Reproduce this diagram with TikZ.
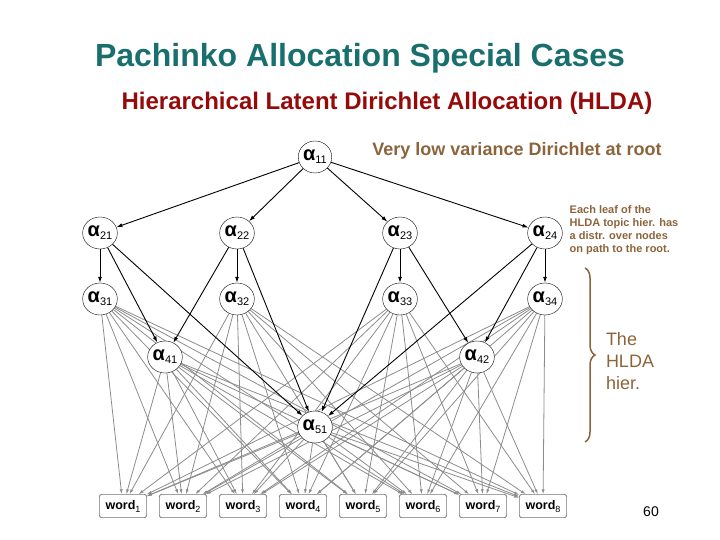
\documentclass[tikz,border=0pt]{standalone}
\usepackage{fontspec}
\setmainfont{Liberation Sans}
\usetikzlibrary{decorations.pathreplacing,arrows.meta,shapes.geometric,backgrounds}
\definecolor{teal1}{RGB}{25,110,110}
\definecolor{red1}{RGB}{150,10,10}
\definecolor{brown1}{RGB}{140,100,60}
\begin{document}
\begin{tikzpicture}[x=1pt,y=-1pt,
  alpha/.style={draw,fill=white,ellipse,minimum width=28pt,minimum height=32pt,inner sep=0pt,font=\fontsize{20}{20}\selectfont\bfseries},
  word/.style={draw,fill=white,rounded corners=2pt,minimum width=47pt,minimum height=23pt,inner sep=1pt,text height=9pt,text depth=3pt,font=\fontsize{12.5}{12.5}\selectfont\bfseries},
  blk/.style={-{Latex[length=6pt,width=4pt]},line width=0.9pt},
  gry/.style={-{Latex[length=5pt,width=3pt]},black!45,line width=0.8pt}]
\useasboundingbox (0,0) rectangle (720,540);
\node[teal1,font=\fontsize{32}{32}\selectfont\bfseries] (t) at (360,58) {Pachinko Allocation Special Cases};
\node[red1,font=\fontsize{24}{24}\selectfont\bfseries] (st) at (387,103) {Hierarchical Latent Dirichlet Allocation (HLDA)};
\node[brown1,font=\fontsize{18}{18}\selectfont\bfseries] (vl) at (517,151) {Very low variance Dirichlet at root};
\node[brown1,font=\fontsize{11}{13.2}\selectfont\bfseries,align=left] (el) at (624,230) {Each leaf of the\\HLDA topic hier. has\\a distr. over nodes\\on path to the root.};
\node[brown1,font=\fontsize{18}{22}\selectfont,align=left] (hh) at (630,361) {The\\HLDA\\hier.};
\node[font=\fontsize{14}{14}\selectfont] (pn) at (651,512) {60};
\draw[brown1,line width=1.5pt,decoration={brace,amplitude=10pt},decorate] (585,268) -- (585,442);

\newcommand{\al}[1]{α\raisebox{-3pt}{\fontsize{11}{11}\selectfont\mdseries #1}}
\node[alpha] (a11) at (315,157) {\al{11}};
\node[alpha] (a21) at (100,233) {\al{21}};
\node[alpha] (a22) at (237,233) {\al{22}};
\node[alpha] (a23) at (400,233) {\al{23}};
\node[alpha] (a24) at (545,233) {\al{24}};
\node[alpha] (a31) at (100,299) {\al{31}};
\node[alpha] (a32) at (237,299) {\al{32}};
\node[alpha] (a33) at (400,299) {\al{33}};
\node[alpha] (a34) at (545,299) {\al{34}};
\node[alpha] (a41) at (165,357) {\al{41}};
\node[alpha] (a42) at (477,357) {\al{42}};
\node[alpha] (a51) at (315,427) {\al{51}};
\foreach \i/\x in {1/123,2/183,3/243,4/303,5/363,6/423,7/483,8/543}
  \node[word] (w\i) at (\x,506) {word\raisebox{-3pt}{\fontsize{9}{9}\selectfont\mdseries\i}};

\begin{scope}[on background layer]
\foreach \s in {a31,a32,a33,a34,a41,a42,a51}
  \foreach \i in {1,...,8}
    \draw[gry] (\s) -- (w\i);
\end{scope}
\foreach \a/\b in {a11/a21,a11/a22,a11/a23,a11/a24,a21/a31,a22/a32,a23/a33,a24/a34,
  a21/a41,a22/a41,a23/a42,a24/a42,a21/a51,a22/a51,a23/a51,a24/a51}
  \draw[blk] (\a) -- (\b);
\end{tikzpicture}
\end{document}
